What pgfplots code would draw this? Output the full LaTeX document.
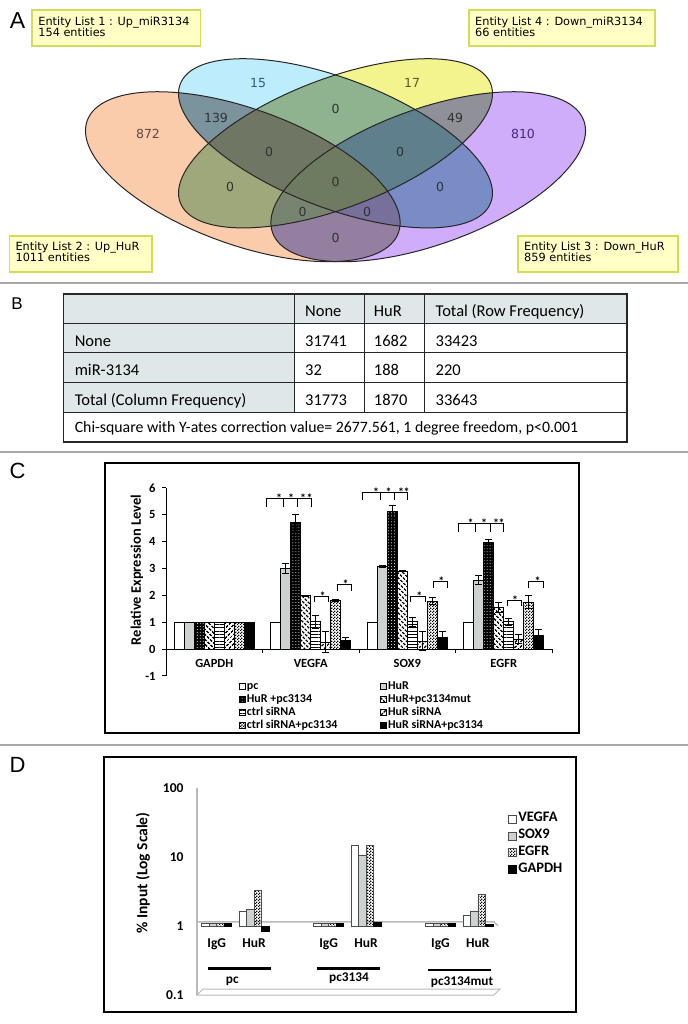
\documentclass[border=0pt]{standalone}
\usepackage{fontspec}
\setmainfont{Carlito}
\newfontfamily\vennfont{DejaVu Sans}
\newfontfamily\arialfont{Liberation Sans}
\usepackage{pgfplots}
\pgfplotsset{compat=1.18}
\usetikzlibrary{patterns,patterns.meta}

\pgfdeclarepatternformonly{finecheck}{\pgfpointorigin}{\pgfpoint{3bp}{3bp}}{\pgfpoint{3bp}{3bp}}{%
  \pgfpathrectangle{\pgfpointorigin}{\pgfpoint{1.5bp}{1.5bp}}%
  \pgfpathrectangle{\pgfpoint{1.5bp}{1.5bp}}{\pgfpoint{1.5bp}{1.5bp}}%
  \pgfusepath{fill}}

\definecolor{cB}{HTML}{BDEDFC}
\definecolor{cO}{HTML}{FBCCAB}
\definecolor{cP}{HTML}{CFADFA}
\definecolor{cY}{HTML}{F4F48E}
\definecolor{cBO}{HTML}{7B939C}
\definecolor{cBY}{HTML}{8FB38F}
\definecolor{cPY}{HTML}{8F9098}
\definecolor{cOY}{HTML}{9EA87A}
\definecolor{cBP}{HTML}{7A8CC6}
\definecolor{cOP}{HTML}{947FA0}
\definecolor{cBOY}{HTML}{6F7664}
\definecolor{cBPY}{HTML}{5F7F8C}
\definecolor{cOPY}{HTML}{778570}
\definecolor{cBOP}{HTML}{76709A}
\definecolor{cALL}{HTML}{6E7B61}
\definecolor{boxfill}{HTML}{FFFFC6}
\definecolor{boxline}{HTML}{D2DC5A}
\definecolor{tabshade}{HTML}{E0E7E9}
\definecolor{sepgray}{HTML}{A8A8A8}
\definecolor{barg}{HTML}{CDD1D1}
\definecolor{t15}{HTML}{2F5A78}
\definecolor{t17}{HTML}{5A5A2E}
\definecolor{t872}{HTML}{5C4B42}
\definecolor{t810}{HTML}{3E2B7E}
\definecolor{tdark}{HTML}{2E3336}

\def\eB{[rotate around={-20.9:(axis cs:335.5,143.3)}] (axis cs:335.5,143.3) ellipse [x radius=166.2bp, y radius=64.6bp]}
\def\eY{[rotate around={20.9:(axis cs:335.5,143.3)}] (axis cs:335.5,143.3) ellipse [x radius=166.2bp, y radius=64.6bp]}
\def\eO{[rotate around={-19.8:(axis cs:242.8,176.7)}] (axis cs:242.8,176.7) ellipse [x radius=165.4bp, y radius=67.9bp]}
\def\eP{[rotate around={19.8:(axis cs:428.2,176.7)}] (axis cs:428.2,176.7) ellipse [x radius=165.4bp, y radius=67.9bp]}

\newcommand{\vf}{\vennfont\fontsize{11.3bp}{12bp}\selectfont}
\newcommand{\vn}{\vennfont\fontsize{12.5bp}{14bp}\selectfont}
\newcommand{\tf}{\fontsize{16.5bp}{18bp}\selectfont}
\newcommand{\pl}{\arialfont\fontsize{22bp}{24bp}\selectfont}

\pgfplotsset{
  eb/.style={error bars/.cd, y dir=both, y explicit,
    error bar style={black, line width=0.7bp},
    error mark options={rotate=90, mark size=3.3bp, line width=0.7bp, black}},
}

\begin{document}
\begin{tikzpicture}
\path[use as bounding box] (0bp,0bp) rectangle (688bp,1024bp);
% ================= canvas (panels A, B, frames) =================
\begin{axis}[at={(0bp,0bp)}, anchor=south west, width=688bp, height=1024bp,
  scale only axis, hide axis, xmin=0, xmax=688, ymin=0, ymax=1024,
  y dir=reverse, clip=false]
% separators
\draw[sepgray, line width=1.3bp] (axis cs:0,283) -- (axis cs:688,283);
\draw[sepgray, line width=1.3bp] (axis cs:0,452) -- (axis cs:688,452);
\draw[sepgray, line width=1.3bp] (axis cs:0,745) -- (axis cs:688,745);
% panel letters
\node[font=\arialfont\fontsize{23bp}{25bp}\selectfont] at (axis cs:17.5,21) {A};
\node[font=\arialfont\fontsize{17bp}{19bp}\selectfont] at (axis cs:17,304) {B};
\node[font=\pl] at (axis cs:17.5,471) {C};
\node[font=\pl] at (axis cs:17.5,765) {D};
% ---- Venn single regions
\fill[cB] \eB; \fill[cY] \eY; \fill[cO] \eO; \fill[cP] \eP;
% pairs
\begin{scope}\clip \eB; \fill[cBO] \eO; \end{scope}
\begin{scope}\clip \eB; \fill[cBY] \eY; \end{scope}
\begin{scope}\clip \eB; \fill[cBP] \eP; \end{scope}
\begin{scope}\clip \eO; \fill[cOY] \eY; \end{scope}
\begin{scope}\clip \eO; \fill[cOP] \eP; \end{scope}
\begin{scope}\clip \eP; \fill[cPY] \eY; \end{scope}
% triples
\begin{scope}\clip \eB; \clip \eO; \fill[cBOY] \eY; \end{scope}
\begin{scope}\clip \eB; \clip \eP; \fill[cBPY] \eY; \end{scope}
\begin{scope}\clip \eO; \clip \eP; \fill[cOPY] \eY; \end{scope}
\begin{scope}\clip \eB; \clip \eO; \fill[cBOP] \eP; \end{scope}
% quad
\begin{scope}\clip \eB; \clip \eO; \clip \eP; \fill[cALL] \eY; \end{scope}
% outlines
\draw[black!85, line width=1bp] \eO;
\draw[black!85, line width=1bp] \eP;
\draw[black!85, line width=1bp] \eB;
\draw[black!85, line width=1bp] \eY;
% counts
\node[font=\vn, text=t15] at (axis cs:258,83) {15};
\node[font=\vn, text=t17] at (axis cs:412,83) {17};
\node[font=\vn, text=tdark] at (axis cs:216,118) {139};
\node[font=\vn, text=tdark] at (axis cs:335.5,109) {0};
\node[font=\vn, text=tdark] at (axis cs:455,118) {49};
\node[font=\vn, text=t872] at (axis cs:148,134) {872};
\node[font=\vn, text=t810] at (axis cs:523,134) {810};
\node[font=\vn, text=tdark] at (axis cs:269,152) {0};
\node[font=\vn, text=tdark] at (axis cs:400,152) {0};
\node[font=\vn, text=tdark] at (axis cs:335.5,182) {0};
\node[font=\vn, text=tdark] at (axis cs:230,187) {0};
\node[font=\vn, text=tdark] at (axis cs:440,187) {0};
\node[font=\vn, text=tdark] at (axis cs:302.6,212) {0};
\node[font=\vn, text=tdark] at (axis cs:367,212) {0};
\node[font=\vn, text=tdark] at (axis cs:335.5,238) {0};
% entity boxes
\draw[boxline, fill=boxfill, line width=1.3bp] (axis cs:32,10) rectangle (axis cs:200.5,46);
\node[font=\vf, anchor=base west, inner sep=0] at (axis cs:38.2,25) {Entity List 1 : Up\_miR3134};
\node[font=\vf, anchor=base west, inner sep=0] at (axis cs:38.2,36.5) {154 entities};
\draw[boxline, fill=boxfill, line width=1.3bp] (axis cs:469,10) rectangle (axis cs:655,46);
\node[font=\vf, anchor=base west, inner sep=0] at (axis cs:475,25) {Entity List 4 : Down\_miR3134};
\node[font=\vf, anchor=base west, inner sep=0] at (axis cs:475,36.5) {66 entities};
\draw[boxline, fill=boxfill, line width=1.3bp] (axis cs:9.6,236) rectangle (axis cs:152,272);
\node[font=\vf, anchor=base west, inner sep=0] at (axis cs:15.4,250) {Entity List 2 : Up\_HuR};
\node[font=\vf, anchor=base west, inner sep=0] at (axis cs:15.4,261.7) {1011 entities};
\draw[boxline, fill=boxfill, line width=1.3bp] (axis cs:518,236) rectangle (axis cs:678,272);
\node[font=\vf, anchor=base west, inner sep=0] at (axis cs:524,250) {Entity List 3 : Down\_HuR};
\node[font=\vf, anchor=base west, inner sep=0] at (axis cs:524,261.7) {859 entities};
% ---- table B
\fill[tabshade] (axis cs:63.6,294) rectangle (axis cs:627,323.3);
\fill[tabshade] (axis cs:63.6,323.3) rectangle (axis cs:294.7,412.3);
\draw[black!85, line width=0.9bp] (axis cs:63.6,323.3) -- (axis cs:627,323.3);
\draw[black!85, line width=0.9bp] (axis cs:63.6,352.3) -- (axis cs:627,352.3);
\draw[black!85, line width=0.9bp] (axis cs:63.6,382.3) -- (axis cs:627,382.3);
\draw[black!85, line width=0.9bp] (axis cs:63.6,412.3) -- (axis cs:627,412.3);
\draw[black!85, line width=0.9bp] (axis cs:294.7,294) -- (axis cs:294.7,412.3);
\draw[black!85, line width=0.9bp] (axis cs:364,294) -- (axis cs:364,412.3);
\draw[black!85, line width=0.9bp] (axis cs:424.6,294) -- (axis cs:424.6,412.3);
\draw[black!85, line width=1.6bp] (axis cs:63.6,294) rectangle (axis cs:627,442);
\node[font=\tf, anchor=base west, inner sep=0] at (axis cs:305,316) {None};
\node[font=\tf, anchor=base west, inner sep=0] at (axis cs:373.7,316) {HuR};
\node[font=\tf, anchor=base west, inner sep=0] at (axis cs:435.5,316) {Total (Row Frequency)};
\node[font=\tf, anchor=base west, inner sep=0] at (axis cs:74.6,346) {None};
\node[font=\tf, anchor=base west, inner sep=0] at (axis cs:305,346) {31741};
\node[font=\tf, anchor=base west, inner sep=0] at (axis cs:373.7,346) {1682};
\node[font=\tf, anchor=base west, inner sep=0] at (axis cs:435.5,346) {33423};
\node[font=\tf, anchor=base west, inner sep=0] at (axis cs:74.6,375.5) {miR-3134};
\node[font=\tf, anchor=base west, inner sep=0] at (axis cs:305,375.5) {32};
\node[font=\tf, anchor=base west, inner sep=0] at (axis cs:373.7,375.5) {188};
\node[font=\tf, anchor=base west, inner sep=0] at (axis cs:435.5,375.5) {220};
\node[font=\tf, anchor=base west, inner sep=0] at (axis cs:74.6,405) {Total (Column Frequency)};
\node[font=\tf, anchor=base west, inner sep=0] at (axis cs:305,405) {31773};
\node[font=\tf, anchor=base west, inner sep=0] at (axis cs:373.7,405) {1870};
\node[font=\tf, anchor=base west, inner sep=0] at (axis cs:435.5,405) {33643};
\node[font=\fontsize{15.8bp}{18bp}\selectfont, anchor=base west, inner sep=0] at (axis cs:74.6,432.7) {Chi-square with Y-ates correction value= 2677.561, 1 degree freedom, p<0.001};
% ---- frames C and D
\draw[black, line width=2.3bp] (axis cs:105,463.3) rectangle (axis cs:579,733);
\draw[black, line width=2.3bp] (axis cs:104,756.7) rectangle (axis cs:576,1011.7);
\end{axis}

% ================= panel C =================
\begin{axis}[at={(166bp,348bp)}, anchor=south west,
  width=386bp, height=188bp, scale only axis,
  xmin=166, xmax=552, ymin=-1, ymax=6, enlargelimits=false, clip=false,
  axis y line*=left, axis x line*=middle,
  axis line style={black, line width=1bp},
  ybar=0pt, bar width=10bp,
  xtick={214.25,310.75,407.25,503.75},
  xticklabels={GAPDH,VEGFA,SOX9,EGFR},
  minor xtick={166,262.5,359,455.5,552},
  ytick={-1,0,1,2,3,4,5,6}, yticklabels={-1,0,1,2,3,4,5,6},
  xtick align=outside, ytick align=outside,
  major tick length=4bp, minor tick length=4bp,
  major x tick style={draw=none},
  minor x tick style={draw=black, line width=1bp},
  major y tick style={draw=black, line width=1bp},
  tick label style={font=\bfseries\fontsize{12.5bp}{14bp}\selectfont},
  xticklabel style={yshift=-3bp},
  yticklabel style={xshift=-3bp},
  ylabel={Relative Expression Level},
  ylabel style={at={(rel axis cs:-0.0751,0.5638)}, anchor=center, font=\bfseries\fontsize{14.5bp}{16bp}\selectfont},
  legend columns=2, legend cell align=left,
  legend image code/.code={\draw[#1,/tikz/.cd] (0bp,-3bp) rectangle (6bp,3bp);},
  legend style={at={(axis cs:236,-1.08)}, anchor=north west, draw=none, fill=none,
    font=\bfseries\fontsize{12bp}{13bp}\selectfont,
    nodes={inner sep=1bp, text height=7.8bp, text depth=2.2bp},
    /tikz/every even column/.append style={column sep=42bp}, row sep=1bp},
]
\addplot[fill=white, draw=black, line width=0.7bp] table[x=x,y=y] {
x y
214.25 1
310.75 1
407.25 1
503.75 1
};
\addplot[fill=barg, draw=black, line width=0.7bp, eb] table[x=x,y=y,y error=e] {
x y e
214.25 1 0
310.75 3.02 0.18
407.25 3.09 0.03
503.75 2.57 0.17
};
\addplot[fill=black, draw=black, line width=0.7bp, postaction={pattern=dots, pattern color=white}, eb] table[x=x,y=y,y error=e] {
x y e
214.25 1 0
310.75 4.71 0.31
407.25 5.12 0.24
503.75 3.96 0.12
};
\addplot[draw=black, line width=0.7bp, pattern={Lines[angle=-45,distance=3.6bp,line width=1.6bp]}, eb] table[x=x,y=y,y error=e] {
x y e
214.25 1 0
310.75 1.99 0.02
407.25 2.90 0.02
503.75 1.55 0.18
};
\addplot[draw=black, line width=0.7bp, pattern={Lines[angle=0,distance=3.3bp,line width=1bp]}, eb] table[x=x,y=y,y error=e] {
x y e
214.25 1 0
310.75 1.02 0.23
407.25 1.02 0.16
503.75 1.02 0.12
};
\addplot[draw=black, line width=0.7bp, pattern={Lines[angle=45,distance=3.6bp,line width=1.6bp]}, eb] table[x=x,y=y,y error=e] {
x y e
214.25 1 0
310.75 0.26 0.39
407.25 0.30 0.35
503.75 0.38 0.17
};
\addplot[draw=black, line width=0.7bp, pattern=finecheck, eb] table[x=x,y=y,y error=e] {
x y e
214.25 1 0
310.75 1.82 0.03
407.25 1.79 0.14
503.75 1.76 0.23
};
\addplot[fill=black, draw=black, line width=0.7bp, eb] table[x=x,y=y,y error=e] {
x y e
214.25 1 0
310.75 0.32 0.11
407.25 0.44 0.21
503.75 0.52 0.23
};
\legend{pc,HuR,HuR +pc3134,HuR+pc3134mut,ctrl siRNA,HuR siRNA,ctrl siRNA+pc3134,HuR siRNA+pc3134}
% significance brackets
\draw[black, line width=0.8bp] (axis cs:266.7,5.304) -- (axis cs:266.7,5.617) -- (axis cs:311,5.617) -- (axis cs:311,5.304)
  (axis cs:283.3,5.617) -- (axis cs:283.3,5.304) (axis cs:297.7,5.617) -- (axis cs:297.7,5.304);
\draw[black, line width=0.8bp] (axis cs:362.7,5.553) -- (axis cs:362.7,5.833) -- (axis cs:407.3,5.833) -- (axis cs:407.3,5.553)
  (axis cs:380,5.833) -- (axis cs:380,5.553) (axis cs:394,5.833) -- (axis cs:394,5.553);
\draw[black, line width=0.8bp] (axis cs:458.3,4.372) -- (axis cs:458.3,4.685) -- (axis cs:503.3,4.685) -- (axis cs:503.3,4.372)
  (axis cs:475.7,4.685) -- (axis cs:475.7,4.372) (axis cs:490,4.685) -- (axis cs:490,4.372);
\draw[black, line width=0.8bp] (axis cs:314,1.752) -- (axis cs:314,1.975) -- (axis cs:328.7,1.975) -- (axis cs:328.7,1.752);
\draw[black, line width=0.8bp] (axis cs:337,2.173) -- (axis cs:337,2.423) -- (axis cs:351.7,2.423) -- (axis cs:351.7,2.173);
\draw[black, line width=0.8bp] (axis cs:410.8,1.763) -- (axis cs:410.8,1.975) -- (axis cs:425.5,1.975) -- (axis cs:425.5,1.763);
\draw[black, line width=0.8bp] (axis cs:433.3,2.262) -- (axis cs:433.3,2.508) -- (axis cs:447.7,2.508) -- (axis cs:447.7,2.262);
\draw[black, line width=0.8bp] (axis cs:507,1.603) -- (axis cs:507,1.815) -- (axis cs:521.3,1.815) -- (axis cs:521.3,1.603);
\draw[black, line width=0.8bp] (axis cs:528.7,2.262) -- (axis cs:528.7,2.534) -- (axis cs:543.5,2.534) -- (axis cs:543.5,2.262);
\begin{scope}[every node/.style={font=\bfseries\fontsize{12bp}{13bp}\selectfont, anchor=base, inner sep=0}]
\node at (axis cs:279,5.47) {*}; \node at (axis cs:291,5.47) {*}; \node at (axis cs:303,5.47) {*}; \node at (axis cs:309.5,5.47) {*};
\node at (axis cs:376,5.68) {*}; \node at (axis cs:388.7,5.68) {*}; \node at (axis cs:401.2,5.68) {*}; \node at (axis cs:406.5,5.68) {*};
\node at (axis cs:470.7,4.535) {*}; \node at (axis cs:484,4.535) {*}; \node at (axis cs:496,4.535) {*}; \node at (axis cs:501.7,4.535) {*};
\node at (axis cs:322.5,1.825) {*}; \node at (axis cs:345.5,2.273) {*};
\node at (axis cs:419.3,1.825) {*}; \node at (axis cs:441.3,2.358) {*};
\node at (axis cs:515,1.665) {*}; \node at (axis cs:537.7,2.384) {*};
\end{scope}
\end{axis}

% ================= panel D =================
\begin{axis}[at={(197bp,29bp)}, anchor=south west,
  width=301bp, height=207bp, scale only axis,
  xmin=197, xmax=498, ymode=log, ymin=0.1, ymax=100, enlargelimits=false, clip=false,
  axis y line*=left, axis x line*=bottom,
  y axis line style={gray!55, line width=1.2bp},
  x axis line style={draw=none},
  ybar=0pt, bar width=7.5bp,
  ytick={0.1,1,10,100}, yticklabels={0.1,1,10,100},
  xtick={216.7,254,328.6,366,440.5,477.8},
  xticklabels={IgG,HuR,IgG,HuR,IgG,HuR},
  major tick length=0bp, tick style={draw=none},
  tick label style={font=\bfseries\fontsize{13.5bp}{15bp}\selectfont},
  xticklabel style={yshift=60bp},
  yticklabel style={xshift=-10bp},
  ylabel={\% Input (Log Scale)},
  ylabel style={at={(rel axis cs:-0.1794,0.5894)}, anchor=center, font=\bfseries\fontsize{15.5bp}{17bp}\selectfont},
  legend cell align=left,
  legend image code/.code={\draw[#1,/tikz/.cd] (0bp,-4bp) rectangle (8bp,4bp);},
  legend style={at={(axis cs:505,50.8)}, anchor=north west, draw=none, fill=none,
    font=\bfseries\fontsize{14.5bp}{16bp}\selectfont,
    nodes={inner sep=1.5bp, text height=10bp, text depth=3.9bp}, row sep=0bp},
]
% floors
\draw[gray!55, line width=1bp] (axis cs:197,0.1) -- (axis cs:494,0.1) -- (axis cs:500,0.122) -- (axis cs:203,0.122) -- cycle;
\draw[gray!55, line width=1.4bp] (axis cs:197,1.15) -- (axis cs:494,1.15) -- (axis cs:498,1.0);
\addplot[fill=white, draw=black!70, line width=0.6bp] table[x=x,y=y] {
x y
216.7 1.08
254 1.65
328.6 1.08
366 14.9
440.5 1.08
477.8 1.42
};
\addplot[fill=barg, draw=black!70, line width=0.6bp] table[x=x,y=y] {
x y
216.7 1.08
254 1.75
328.6 1.08
366 10.5
440.5 1.08
477.8 1.65
};
\addplot[draw=black!70, line width=0.6bp, pattern=finecheck] table[x=x,y=y] {
x y
216.7 1.08
254 3.25
328.6 1.08
366 14.7
440.5 1.08
477.8 2.9
};
\addplot[fill=black, draw=black, line width=0.6bp] table[x=x,y=y] {
x y
216.7 1.08
254 0.84
328.6 1.08
366 1.15
440.5 1.08
477.8 1.05
};
\legend{VEGFA,SOX9,EGFR,GAPDH}
% group labels
\draw[black, line width=2.7bp] (axis cs:208.3,0.2438) -- (axis cs:270.7,0.2438);
\draw[black, line width=2.7bp] (axis cs:317.3,0.2438) -- (axis cs:380,0.2438);
\draw[black, line width=2.7bp] (axis cs:428.3,0.230) -- (axis cs:490.7,0.230);
\node[font=\bfseries\fontsize{13.3bp}{15bp}\selectfont, anchor=base, inner sep=0] at (axis cs:232.3,0.1468) {pc};
\node[font=\bfseries\fontsize{13.3bp}{15bp}\selectfont, anchor=base, inner sep=0] at (axis cs:349,0.157) {pc3134};
\node[font=\bfseries\fontsize{13.3bp}{15bp}\selectfont, anchor=base, inner sep=0] at (axis cs:462,0.1396) {pc3134mut};
\end{axis}
\end{tikzpicture}
\end{document}
